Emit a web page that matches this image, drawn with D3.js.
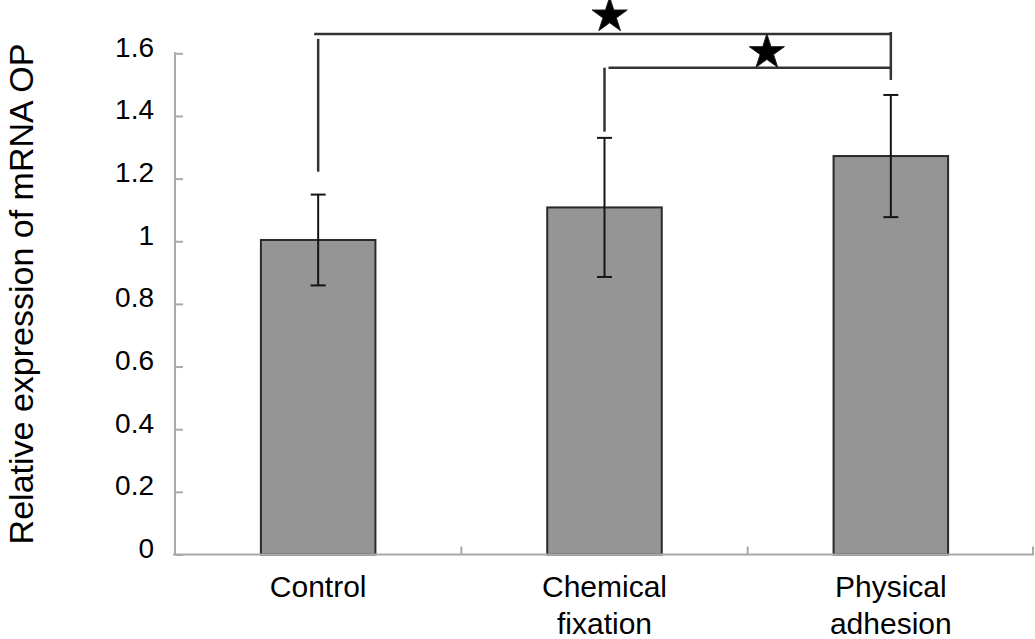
<!DOCTYPE html>
<html>
<head>
<meta charset="utf-8">
<script src="https://cdn.jsdelivr.net/npm/d3@7"></script>
<style>
  html, body { margin: 0; padding: 0; background: #fff; }
  svg { display: block; }
  text { font-family: "Liberation Sans", Arial, Helvetica, sans-serif; fill: #000; }
</style>
</head>
<body>
<svg id="chart" width="1035" height="639"></svg>
<script>
// ---- data ----
const categories = ["Control", "Chemical fixation", "Physical adhesion"];
const categoryLines = [["Control"], ["Chemical", "fixation"], ["Physical", "adhesion"]];
const means = [1.004, 1.108, 1.272];
const errors = [0.145, 0.222, 0.195];
const yTicks = [0, 0.2, 0.4, 0.6, 0.8, 1, 1.2, 1.4, 1.6];
const yTickLabels = ["0", "0.2", "0.4", "0.6", "0.8", "1", "1.2", "1.4", "1.6"];
const yTitle = "Relative expression of mRNA OP";
// significance comparisons: from category index a to b, bracket height (value), left-leg lower end (value)
const comparisonFrom = [0, 1];
const comparisonTo = [2, 2];
const comparisonLevel = [1.662, 1.554];
const comparisonLegEnd = [1.222, 1.35];
const rightLegTop = 1.668;
const rightLegEnd = 1.515;
const starValues = [1.72, 1.603];

// ---- layout ----
const svg = d3.select("#chart");
const mLeft = 175, mRight = 1034, mTop = 53.3, mBottom = 554.5;

const x = d3.scaleBand().domain(categories).range([mLeft, mRight]).padding(0);
const y = d3.scaleLinear().domain([0, 1.6]).range([mBottom, mTop]);
const barW = x.bandwidth() * 0.4;
const cx = d => x(d) + x.bandwidth() / 2;

// bars
svg.append("g").selectAll("rect").data(categories).join("rect")
  .attr("x", d => cx(d) - barW / 2)
  .attr("y", (d, i) => y(means[i]))
  .attr("width", barW)
  .attr("height", (d, i) => y(0) - y(means[i]))
  .attr("fill", "#959595")
  .attr("stroke", "#2a2a2a")
  .attr("stroke-width", 2);

// error bars
const eb = svg.append("g").attr("stroke", "#151515").attr("stroke-width", 2);
categories.forEach((c, i) => {
  const xc = cx(c);
  eb.append("line").attr("x1", xc).attr("x2", xc)
    .attr("y1", y(means[i] + errors[i])).attr("y2", y(means[i] - errors[i]));
  [means[i] + errors[i], means[i] - errors[i]].forEach(v => {
    eb.append("line").attr("x1", xc - 7.5).attr("x2", xc + 7.5)
      .attr("y1", y(v)).attr("y2", y(v));
  });
});

// y axis
const yAxis = d3.axisRight(y).tickValues(yTicks).tickSize(8).tickFormat("");
const gy = svg.append("g").attr("transform", `translate(${mLeft},0)`).call(yAxis);
gy.select(".domain").remove();
gy.selectAll(".tick line").attr("stroke", "#aaa").attr("stroke-width", 2);
svg.append("line").attr("x1", mLeft).attr("x2", mLeft).attr("y1", y(1.6) - 1).attr("y2", y(0))
  .attr("stroke", "#aaa").attr("stroke-width", 2);
svg.append("g").selectAll("text").data(yTicks).join("text")
  .attr("x", 154)
  .attr("y", d => y(d) + 3.5)
  .attr("text-anchor", "end")
  .attr("font-size", 28)
  .text((d, i) => yTickLabels[i]);

// x axis
svg.append("line").attr("x1", mLeft - 2).attr("x2", mRight).attr("y1", y(0)).attr("y2", y(0))
  .attr("stroke", "#aaa").attr("stroke-width", 2);
const boundaries = categories.slice(1).map(c => x(c)).concat([mRight - 1]);
svg.append("g").selectAll("line").data(boundaries).join("line")
  .attr("x1", d => d).attr("x2", d => d)
  .attr("y1", y(0)).attr("y2", y(0) - 8)
  .attr("stroke", "#aaa").attr("stroke-width", 2);

// x labels
const xl = svg.append("g");
categories.forEach((c, i) => {
  categoryLines[i].forEach((line, j) => {
    xl.append("text")
      .attr("x", cx(c))
      .attr("y", 597 + j * 37)
      .attr("text-anchor", "middle")
      .attr("font-size", 30)
      .text(line);
  });
});

// y title
svg.append("text")
  .attr("transform", `translate(33,${(43 + 545) / 2}) rotate(-90)`)
  .attr("text-anchor", "middle")
  .attr("font-size", 34)
  .text(yTitle);

// significance brackets
const br = svg.append("g").attr("stroke", "#333").attr("stroke-width", 2.5).attr("fill", "none");
comparisonFrom.forEach((a, k) => {
  const xa = cx(categories[a]);
  const xb = cx(categories[comparisonTo[k]]);
  br.append("line").attr("x1", xa - 4 + (k === 1 ? 8 : 0)).attr("x2", xb)
    .attr("y1", y(comparisonLevel[k])).attr("y2", y(comparisonLevel[k]));
  br.append("line").attr("x1", xa).attr("x2", xa)
    .attr("y1", y(comparisonLevel[k]) + (k === 0 ? 5 : 0)).attr("y2", y(comparisonLegEnd[k]));
});
{
  const xb = cx(categories[2]);
  br.append("line").attr("x1", xb).attr("x2", xb)
    .attr("y1", y(rightLegTop)).attr("y2", y(rightLegEnd));
}

// stars
const star = d3.symbol().type(d3.symbolStar).size(384);
comparisonFrom.forEach((a, k) => {
  const xa = cx(categories[a]);
  const xb = cx(categories[comparisonTo[k]]);
  const sx = xa + (xb - xa) * (k === 0 ? 0.509 : 0.567);
  svg.append("path").attr("d", star())
    .attr("transform", `translate(${sx},${y(starValues[k])})`)
    .attr("fill", "#000").attr("stroke", "#222").attr("stroke-width", 1);
});
</script>
</body>
</html>
